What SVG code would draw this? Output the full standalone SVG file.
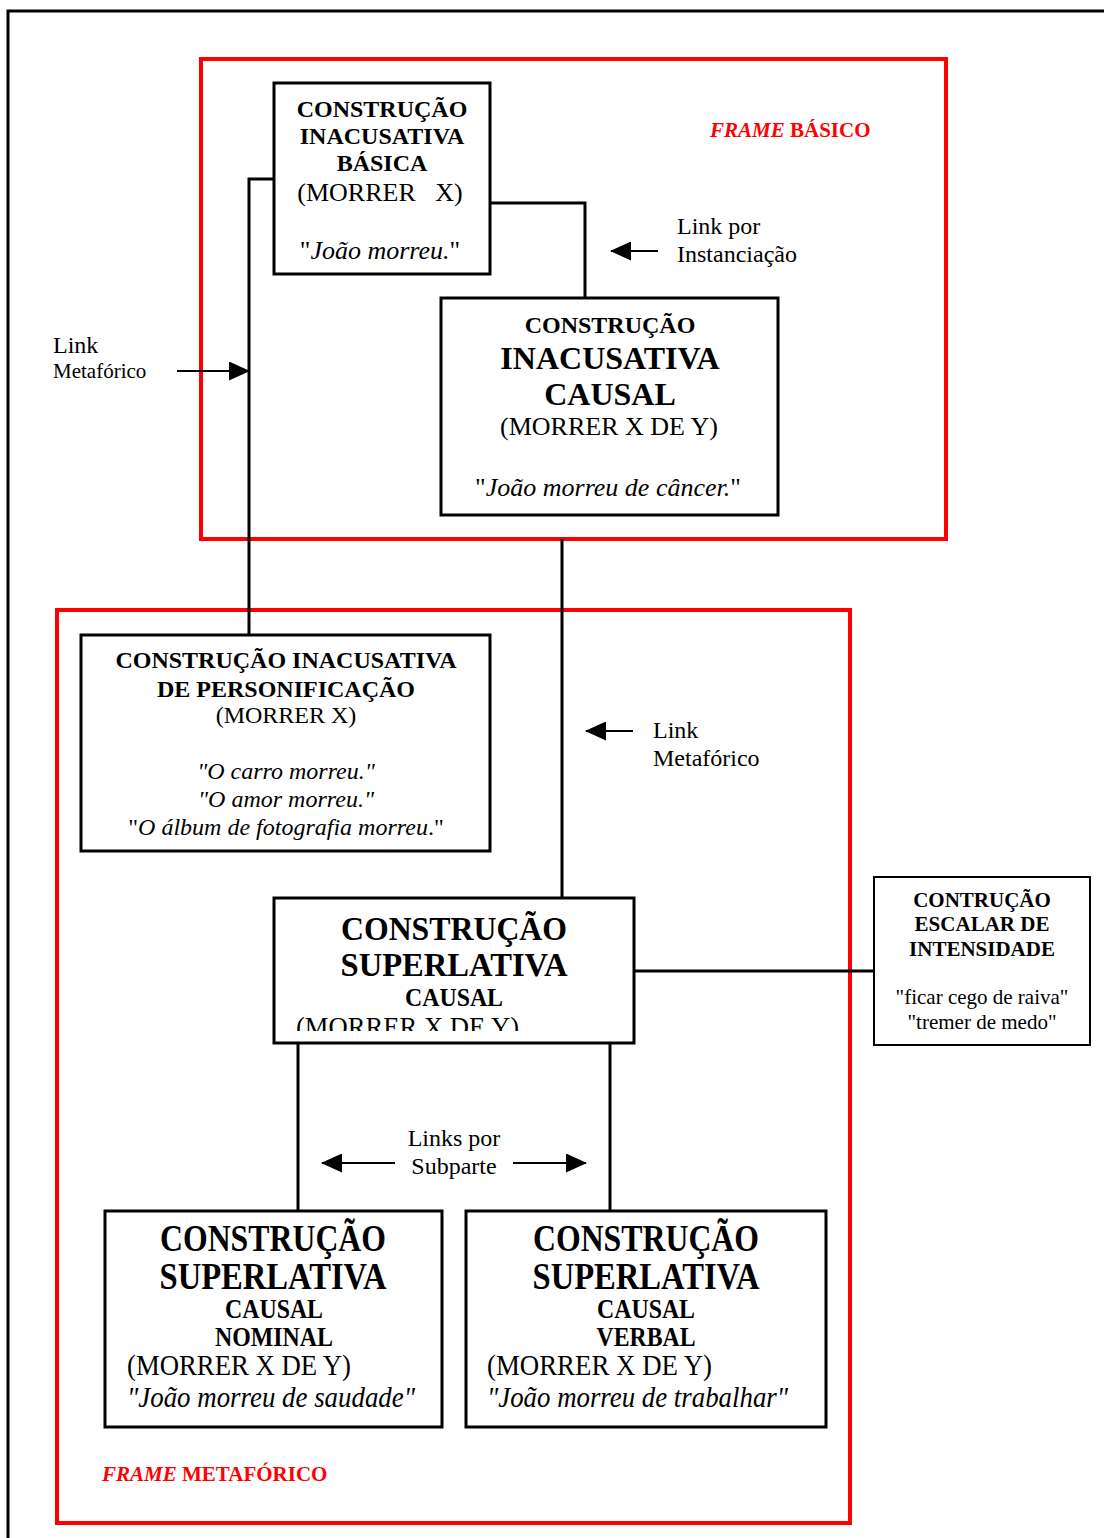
<svg xmlns="http://www.w3.org/2000/svg" width="1104" height="1538" viewBox="0 0 1104 1538">
<style>
text{font-family:"Liberation Serif","Times New Roman",serif;fill:#000}
.b{font-weight:bold}
.i{font-style:italic}
.c{text-anchor:middle}
.box{fill:#fff;stroke:#000;stroke-width:3}
.frame{fill:none;stroke:#f00;stroke-width:4}
.ln{fill:none;stroke:#000;stroke-width:3}
.arr{stroke:#000;stroke-width:2}
</style>
<defs>
<marker id="ah" markerWidth="21" markerHeight="19" refX="20" refY="9.5" orient="auto" markerUnits="userSpaceOnUse" viewBox="0 0 21 19">
<path d="M0,0 L21,9.5 L0,19 z" fill="#000"/>
</marker>
<clipPath id="clipSup"><rect x="276" y="900" width="356" height="131"/></clipPath>
</defs>
<rect width="1104" height="1538" fill="#fff"/>
<path d="M8,1540 L8,11 L1106,11" fill="none" stroke="#000" stroke-width="3"/>

<g id="frame-basico">
<rect class="frame" x="201" y="59" width="745" height="480"/>
<text class="b" x="710" y="137" font-size="21" style="fill:#f00"><tspan class="i">FRAME</tspan> BÁSICO</text>
</g>
<g id="frame-metaforico">
<rect class="frame" x="57" y="610" width="793" height="913"/>
<text class="b" x="102" y="1481" font-size="21" style="fill:#f00"><tspan class="i">FRAME</tspan> METAFÓRICO</text>
</g>

<g id="connectors">
<path class="ln" d="M490,203 L585,203 L585,298"/>
<path class="ln" d="M274,179 L249,179 L249,635"/>
<path class="ln" d="M562,539 L562,898"/>
<path class="ln" d="M634,971 L874,971"/>
<path class="ln" d="M298,1043 L298,1211"/>
<path class="ln" d="M610,1043 L610,1211"/>
<line class="arr" x1="658" y1="251" x2="611" y2="251" marker-end="url(#ah)"/>
<line class="arr" x1="177" y1="371" x2="249" y2="371" marker-end="url(#ah)"/>
<line class="arr" x1="633" y1="731" x2="586" y2="731" marker-end="url(#ah)"/>
<line class="arr" x1="395" y1="1163" x2="322" y2="1163" marker-end="url(#ah)"/>
<line class="arr" x1="513" y1="1163" x2="586" y2="1163" marker-end="url(#ah)"/>
</g>

<g id="labels">
<text x="677" y="234" font-size="24">Link por</text>
<text x="677" y="262" font-size="24">Instanciação</text>
<text x="53" y="353" font-size="24">Link</text>
<text x="53" y="378" font-size="21">Metafórico</text>
<text x="653" y="738" font-size="24">Link</text>
<text x="653" y="766" font-size="24">Metafórico</text>
<text class="c" x="454" y="1146" font-size="24">Links por</text>
<text class="c" x="454" y="1174" font-size="24">Subparte</text>
</g>

<g id="node-basica">
<rect class="box" x="274" y="83" width="216" height="191"/>
<text class="b c" x="382" y="117" font-size="24">CONSTRUÇÃO</text>
<text class="b c" x="382" y="144" font-size="24">INACUSATIVA</text>
<text class="b c" x="382" y="171" font-size="24">BÁSICA</text>
<text class="c" x="380" y="201" font-size="26">(MORRER&#160;&#160; X)</text>
<text class="c" x="380" y="259" font-size="26">"<tspan class="i">João morreu.</tspan>"</text>
</g>

<g id="node-causal">
<rect class="box" x="441" y="298" width="337" height="217"/>
<text class="b c" x="610" y="333" font-size="24">CONSTRUÇÃO</text>
<text class="b c" x="610" y="369" font-size="32">INACUSATIVA</text>
<text class="b c" x="610" y="405" font-size="32">CAUSAL</text>
<text class="c" x="609" y="435" font-size="26">(MORRER X DE Y)</text>
<text class="c" x="608" y="496" font-size="26">"<tspan class="i">João morreu de câncer.</tspan>"</text>
</g>

<g id="node-personificacao">
<rect class="box" x="81" y="635" width="409" height="216"/>
<text class="b c" x="286" y="668" font-size="24">CONSTRUÇÃO INACUSATIVA</text>
<text class="b c" x="286" y="697" font-size="24">DE PERSONIFICAÇÃO</text>
<text class="c" x="286" y="723" font-size="24">(MORRER X)</text>
<text class="c i" x="286" y="779" font-size="24">"O carro morreu."</text>
<text class="c i" x="286" y="807" font-size="24">"O amor morreu."</text>
<text class="c" x="286" y="835" font-size="24">"<tspan class="i">O álbum de fotografia morreu</tspan>."</text>
</g>

<g id="node-superlativa">
<rect class="box" x="274" y="898" width="360" height="145"/>
<g clip-path="url(#clipSup)">
<text class="b c" x="454" y="940" font-size="34" textLength="226" lengthAdjust="spacingAndGlyphs">CONSTRUÇÃO</text>
<text class="b c" x="454" y="976" font-size="34" textLength="227" lengthAdjust="spacingAndGlyphs">SUPERLATIVA</text>
<text class="b c" x="454" y="1006" font-size="25" textLength="98" lengthAdjust="spacingAndGlyphs">CAUSAL</text>
<text x="296" y="1036" font-size="27" textLength="223" lengthAdjust="spacingAndGlyphs">(MORRER X DE Y)</text>
</g>
</g>

<g id="node-escalar">
<rect x="874" y="877" width="216" height="168" fill="#fff" stroke="#000" stroke-width="2"/>
<text class="b c" x="982" y="907" font-size="21">CONTRUÇÃO</text>
<text class="b c" x="982" y="931" font-size="21">ESCALAR DE</text>
<text class="b c" x="982" y="956" font-size="21">INTENSIDADE</text>
<text class="c" x="982" y="1004" font-size="21">"ficar cego de raiva"</text>
<text class="c" x="982" y="1029" font-size="21">"tremer de medo"</text>
</g>

<g id="node-nominal">
<rect class="box" x="105" y="1211" width="337" height="216"/>
<text class="b c" x="273" y="1251" font-size="37" textLength="226" lengthAdjust="spacingAndGlyphs">CONSTRUÇÃO</text>
<text class="b c" x="273" y="1289" font-size="37" textLength="227" lengthAdjust="spacingAndGlyphs">SUPERLATIVA</text>
<text class="b c" x="274" y="1318" font-size="27" textLength="98" lengthAdjust="spacingAndGlyphs">CAUSAL</text>
<text class="b c" x="274" y="1346" font-size="27" textLength="118" lengthAdjust="spacingAndGlyphs">NOMINAL</text>
<text x="127" y="1375" font-size="29" textLength="224" lengthAdjust="spacingAndGlyphs">(MORRER X DE Y)</text>
<text class="i" x="127" y="1407" font-size="29" textLength="288" lengthAdjust="spacingAndGlyphs">"João morreu de saudade"</text>
</g>

<g id="node-verbal">
<rect class="box" x="466" y="1211" width="360" height="216"/>
<text class="b c" x="646" y="1251" font-size="37" textLength="226" lengthAdjust="spacingAndGlyphs">CONSTRUÇÃO</text>
<text class="b c" x="646" y="1289" font-size="37" textLength="227" lengthAdjust="spacingAndGlyphs">SUPERLATIVA</text>
<text class="b c" x="646" y="1318" font-size="27" textLength="98" lengthAdjust="spacingAndGlyphs">CAUSAL</text>
<text class="b c" x="646" y="1346" font-size="27" textLength="99" lengthAdjust="spacingAndGlyphs">VERBAL</text>
<text x="487" y="1375" font-size="29" textLength="225" lengthAdjust="spacingAndGlyphs">(MORRER X DE Y)</text>
<text class="i" x="487" y="1407" font-size="29" textLength="301" lengthAdjust="spacingAndGlyphs">"João morreu de trabalhar"</text>
</g>
</svg>
